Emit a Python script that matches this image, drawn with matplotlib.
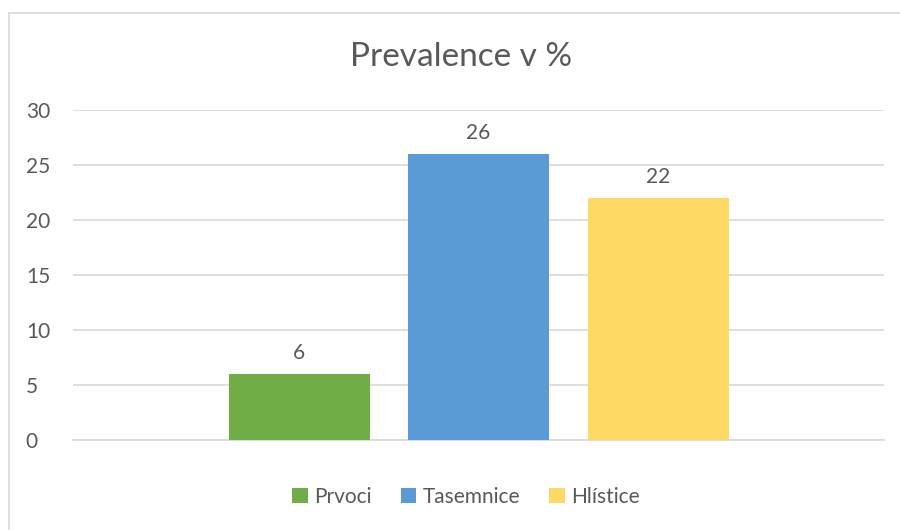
import numpy as np
import matplotlib.pyplot as plt
from matplotlib.patches import Rectangle, Patch

#%% --- Data ---
series_names = ["Prvoci", "Tasemnice", "Hlístice"]
prevalence = [6, 26, 22]
bar_colors = ["#70AD47", "#5B9BD5", "#FFD966"]
y_ticks = [0, 5, 10, 15, 20, 25, 30]

text_color = "#595959"
grid_color = "#D9D9D9"
plt.rcParams['font.family'] = ['Lato', 'DejaVu Sans']

#%% --- Figure ---
W, H = 900, 530
fig = plt.figure(figsize=(W / 100, H / 100), dpi=100)

# chart border (Excel style), right and bottom edges run off the image
fig.patches.append(Rectangle((9 / W, -0.01), 1.0, 1 - 13 / H + 0.01,
                             transform=fig.transFigure, fill=False,
                             edgecolor=grid_color, linewidth=1.2))

ax = fig.add_axes([73 / W, 1 - 440 / H, (884 - 73) / W, (440 - 110) / H])

positions = np.arange(len(prevalence)) - 1
bar_width = 141 / 179.5
bars = ax.bar(positions, prevalence, width=bar_width, color=bar_colors, zorder=3)

# value labels
for rect, v in zip(bars, prevalence):
    ax.annotate(str(v), (rect.get_x() + rect.get_width() / 2, rect.get_height()),
                xytext=(0, 8), textcoords="offset points", ha="center", va="bottom",
                fontsize=15, color=text_color)

half = 405.5 / 179.5
ax.set_xlim(-half, half)
ax.set_ylim(0, 30)
ax.set_yticks(y_ticks)
ax.set_xticks([])
ax.yaxis.grid(True, color=grid_color, linewidth=1.2, zorder=0)
ax.tick_params(axis="y", length=0, labelsize=15, labelcolor=text_color, pad=34)
for lbl in ax.get_yticklabels():
    lbl.set_horizontalalignment("left")
for s in ["top", "right", "left"]:
    ax.spines[s].set_visible(False)
ax.spines["bottom"].set_color(grid_color)
ax.spines["bottom"].set_linewidth(1.2)

fig.text(461 / W, 1 - 57 / H, "Prevalence v %", ha="center", va="center",
         fontsize=24, color=text_color)

handles = [Patch(facecolor=c, edgecolor="none") for c in bar_colors]
fig.legend(handles, series_names, loc="center", bbox_to_anchor=(466 / W, 1 - 497 / H),
           ncol=3, frameon=False, fontsize=15, labelcolor=text_color,
           handlelength=0.75, handleheight=0.75, handletextpad=0.3, columnspacing=1.4)

plt.savefig("out.png", dpi=100)
